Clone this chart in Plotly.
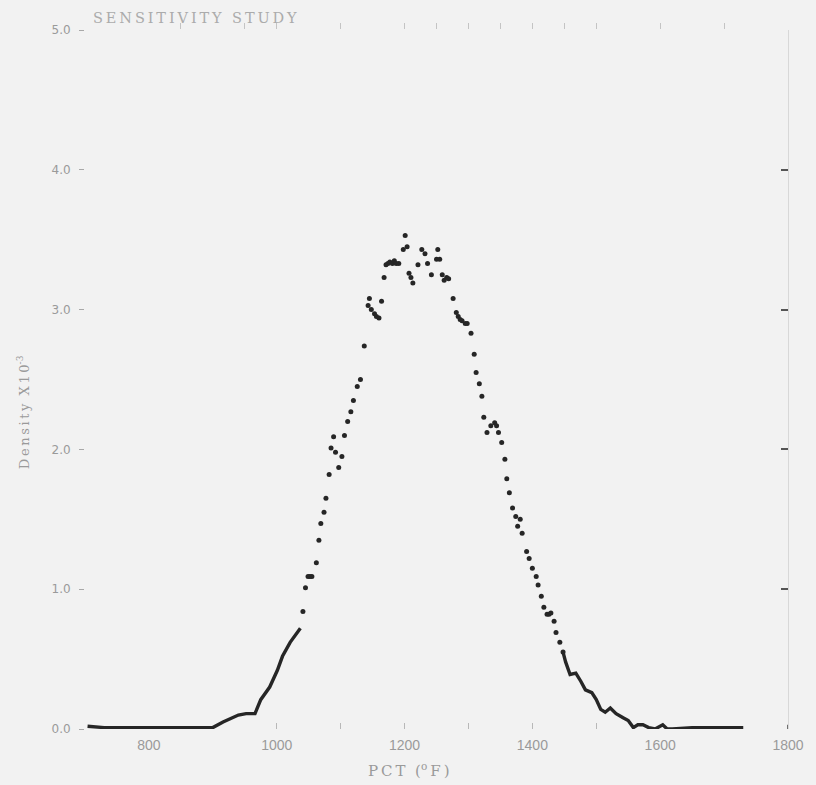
import plotly.graph_objects as go

# ---- data ----
left_x = [704, 730, 760, 790, 820, 850, 880, 900, 916, 929, 940, 952, 966, 975, 989, 1001, 1009, 1021, 1037]
left_y = [0.02, 0.01, 0.01, 0.01, 0.01, 0.01, 0.01, 0.01, 0.05, 0.08, 0.10, 0.11, 0.11, 0.21, 0.30, 0.42, 0.52, 0.62, 0.72]

center_x = [1041, 1045, 1049, 1052, 1055, 1062, 1066, 1069, 1074, 1077, 1082, 1085, 1089, 1092, 1097,
            1102, 1106, 1111, 1116, 1120, 1126, 1131, 1137, 1143, 1145, 1148, 1153, 1156, 1160, 1164,
            1168, 1171, 1174, 1177, 1181, 1184, 1187, 1191, 1198, 1201, 1204, 1207, 1210, 1213, 1221,
            1227, 1232, 1236, 1242, 1250, 1252, 1255, 1259, 1262, 1266, 1269, 1276, 1281, 1284, 1287,
            1290, 1295, 1298, 1304, 1309, 1312, 1317, 1321, 1324, 1329, 1335, 1341, 1344, 1347, 1352,
            1357, 1360, 1364, 1369, 1374, 1377, 1381, 1384, 1391, 1395, 1400, 1406, 1409, 1414, 1418,
            1423, 1426, 1429, 1434, 1437, 1443, 1448]
center_y = [0.84, 1.01, 1.09, 1.09, 1.09, 1.19, 1.35, 1.47, 1.55, 1.65, 1.82, 2.01, 2.09, 1.98, 1.87,
            1.95, 2.10, 2.20, 2.27, 2.35, 2.45, 2.50, 2.74, 3.03, 3.08, 3.00, 2.97, 2.95, 2.94, 3.06,
            3.23, 3.32, 3.33, 3.34, 3.33, 3.35, 3.33, 3.33, 3.43, 3.53, 3.45, 3.26, 3.23, 3.19, 3.32,
            3.43, 3.40, 3.33, 3.25, 3.36, 3.43, 3.36, 3.25, 3.21, 3.23, 3.22, 3.08, 2.98, 2.95, 2.93,
            2.92, 2.90, 2.90, 2.83, 2.68, 2.55, 2.47, 2.38, 2.23, 2.12, 2.17, 2.19, 2.17, 2.12, 2.05,
            1.93, 1.79, 1.69, 1.58, 1.52, 1.45, 1.50, 1.40, 1.27, 1.22, 1.15, 1.09, 1.03, 0.95, 0.87,
            0.82, 0.82, 0.83, 0.77, 0.69, 0.62, 0.55]

right_x = [1448, 1452, 1459, 1468, 1476, 1483, 1493, 1500, 1507, 1514, 1522, 1531, 1542, 1550, 1558,
           1565, 1573, 1582, 1592, 1604, 1611, 1619, 1650, 1681, 1710, 1730]
right_y = [0.55, 0.48, 0.39, 0.40, 0.34, 0.28, 0.26, 0.21, 0.14, 0.12, 0.15, 0.11, 0.08, 0.06, 0.01,
           0.03, 0.03, 0.01, 0.00, 0.03, 0.00, 0.00, 0.01, 0.01, 0.01, 0.01]

x_tickvals = [800, 1000, 1200, 1400, 1600, 1800]
x_ticktext = ["800", "1000", "1200", "1400", "1600", "1800"]
y_tickvals = [0, 1, 2, 3, 4, 5]
y_ticktext = ["0.0", "1.0", "2.0", "3.0", "4.0", "5.0"]

INK = "#262626"
GREY = "#9a9a9a"
BG = "#f2f2f2"
TS = "\u2009"  # thin space used to mimic the wide letter spacing of the scan


def spaced(s):
    return TS.join(list(s))


fig = go.Figure()
fig.add_trace(go.Scatter(x=left_x, y=left_y, mode="lines",
                         line=dict(color=INK, width=3.4), hoverinfo="skip", showlegend=False))
fig.add_trace(go.Scatter(x=right_x, y=right_y, mode="lines",
                         line=dict(color=INK, width=3.4), hoverinfo="skip", showlegend=False))
fig.add_trace(go.Scatter(x=center_x, y=center_y, mode="markers",
                         marker=dict(color=INK, size=5), hoverinfo="skip", showlegend=False))
# invisible trace to anchor the right / top frame axes
fig.add_trace(go.Scatter(x=[700], y=[0], xaxis="x2", yaxis="y2", mode="markers",
                         marker=dict(opacity=0), hoverinfo="skip", showlegend=False))

fig.update_layout(
    width=816, height=785,
    margin=dict(l=85, r=16, t=30, b=56),
    paper_bgcolor=BG, plot_bgcolor=BG,
    xaxis=dict(range=[700, 1800], tickvals=x_tickvals, ticktext=x_ticktext,
               showgrid=False, zeroline=False, showline=False,
               ticks="", ticklabelstandoff=6, ticklabeloverflow="allow",
               tickfont=dict(family="Liberation Sans Narrow, Arial Narrow, sans-serif", size=14, color=GREY),
               minor=dict(tickvals=[1000, 1100, 1200, 1300, 1400, 1500], ticks="inside",
                          ticklen=6, tickcolor="#b8b8b8", tickwidth=1)),
    yaxis=dict(range=[0, 5], tickvals=y_tickvals, ticktext=y_ticktext,
               showgrid=False, zeroline=False, showline=False,
               ticks="outside", ticklen=5, tickcolor="#a8a8a8", tickwidth=1,
               ticklabelstandoff=6,
               tickfont=dict(family="DejaVu Sans, sans-serif", size=12, color=GREY)),
    xaxis2=dict(range=[700, 1800], overlaying="x", side="top", anchor="y2",
                showgrid=False, zeroline=False, showline=False, showticklabels=False,
                tickvals=[850, 950, 1000, 1100, 1200, 1250, 1300, 1350, 1400, 1450, 1500, 1600, 1700],
                ticks="outside", ticklen=6, tickcolor="#c4c4c4", tickwidth=1),
    yaxis2=dict(range=[0, 5], overlaying="y", side="right", anchor="x2",
                showgrid=False, zeroline=False, showticklabels=False,
                showline=True, linecolor="#d8d8d8", linewidth=1,
                tickvals=[1, 2, 3, 4, 5], ticks="inside", ticklen=7,
                tickcolor="#555555", tickwidth=1.5),
)

# dark tick at the bottom-right corner (x = 1800)
fig.add_shape(type="line", xref="x", yref="y", x0=1800, x1=1800, y0=-0.04, y1=0.03,
              line=dict(color="#444444", width=1.5))

fig.add_annotation(text=spaced("SENSITIVITY STUDY"), xref="paper", yref="paper",
                   x=0.009, y=1.017, xanchor="left", yanchor="middle", showarrow=False,
                   font=dict(family="DejaVu Serif, serif", size=14.5, color="#ababab"))
fig.add_annotation(text=spaced("PCT") + "  (<sup>o</sup>" + TS + "F" + TS + ")", xref="paper", yref="paper",
                   x=(415 - 85) / 715, y=-0.058, xanchor="center", yanchor="middle", showarrow=False,
                   font=dict(family="DejaVu Serif, serif", size=15, color=GREY))
fig.add_annotation(text=spaced("Density") + "  " + spaced("X10") + "<sup>-3</sup>", xref="paper", yref="paper",
                   x=-0.088, y=(729 - 412) / 699, xanchor="center", yanchor="middle", showarrow=False,
                   textangle=-90,
                   font=dict(family="DejaVu Serif, serif", size=13, color=GREY))

fig.write_html("out.html")
